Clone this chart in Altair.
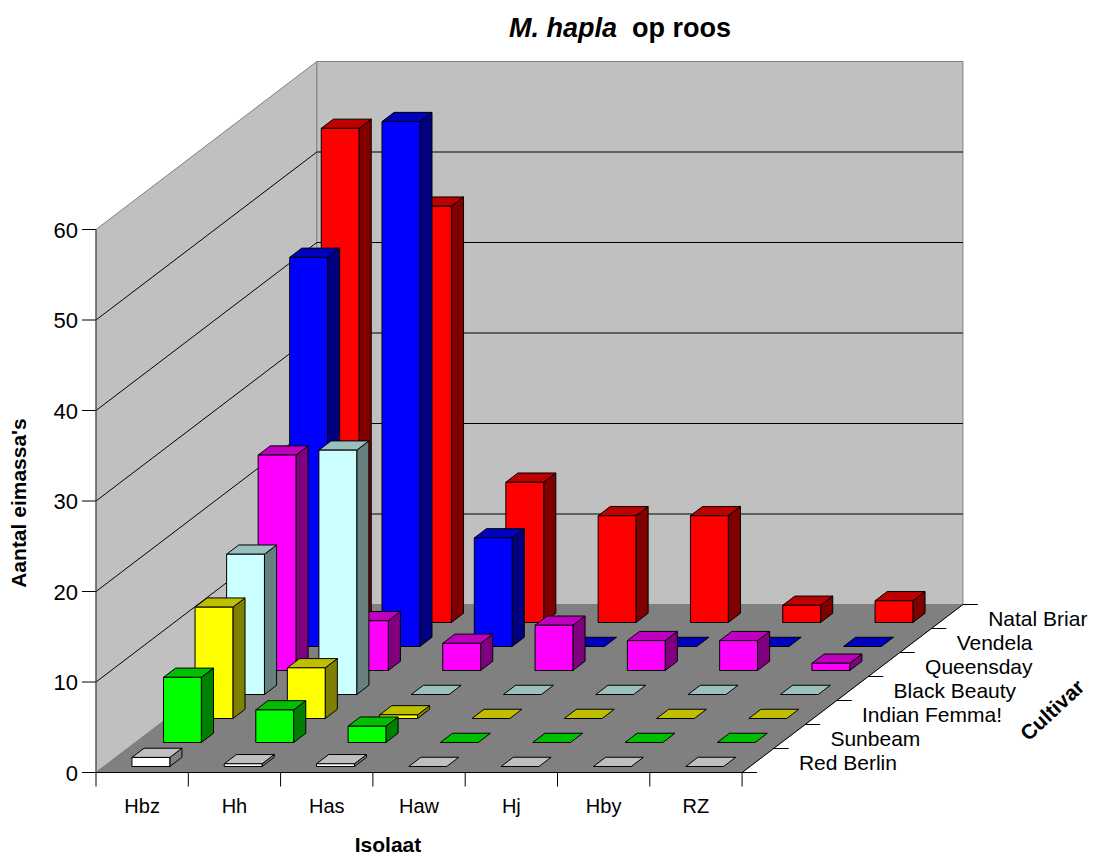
import altair as alt

isolates = ["Hbz", "Hh", "Has", "Haw", "Hj", "Hby", "RZ"]
cultivars = ["Red Berlin", "Sunbeam", "Indian Femma!", "Black Beauty", "Queensday", "Vendela", "Natal Briar"]
red_berlin = [1.0, 0.3, 0.3, 0, 0, 0, 0]
sunbeam = [7.2, 3.6, 1.8, 0, 0, 0, 0]
indian_femma = [12.3, 5.6, 0.4, 0, 0, 0, 0]
black_beauty = [15.5, 27.0, 0, 0, 0, 0, 0]
queensday = [23.8, 5.5, 3.0, 5.0, 3.3, 3.3, 0.8]
vendela = [43.0, 58.0, 12.0, 0, 0, 0, 0]
natal_briar = [54.6, 46.0, 15.5, 11.8, 11.8, 1.9, 2.4]
series = [red_berlin, sunbeam, indian_femma, black_beauty, queensday, vendela, natal_briar]
front_colors = ["#ffffff", "#00ff00", "#ffff00", "#ccffff", "#ff00ff", "#0000ff", "#ff0000"]
top_colors = ["#bfbfbf", "#00bf00", "#bfbf00", "#99bfbf", "#bf00bf", "#0000bf", "#bf0000"]
side_colors = ["#808080", "#008000", "#808000", "#668080", "#800080", "#000080", "#800000"]
y_ticks = [0, 10, 20, 30, 40, 50, 60]

# oblique projection of the 3D chart box onto the page
X0, Y0 = 88.0, 764.5        # front-left floor corner, inside the page margin
CELL = 92.3                 # width of an isolate
DX, DY = 31.55, 24.0        # shift of a cultivar row
UNIT = 9.05                 # pixels per egg mass
GAP = 0.304                 # part of a cell left of the bar, front face
BAR_W, DEPTH = 0.41, 0.385  # bar size, in cells and rows
ROW_START = 0.25            # part of a row in front of the bar


def pt(c, r, v=0.0):
    return [X0 + CELL * c + DX * r, Y0 - DY * r - UNIT * v]


def poly(points, fill, stroke):
    ring = points + [points[0]]
    return {"type": "Feature", "properties": {"fill": fill, "stroke": stroke},
            "geometry": {"type": "Polygon", "coordinates": [ring]}}


def line(points, stroke):
    return {"type": "Feature", "properties": {"stroke": stroke},
            "geometry": {"type": "LineString", "coordinates": points}}


n_c, n_r, top = len(isolates), len(cultivars), max(y_ticks)
walls = [
    poly([pt(0, 0), pt(0, n_r), pt(0, n_r, top), pt(0, 0, top)], "#c0c0c0", "#808080"),
    poly([pt(0, n_r), pt(n_c, n_r), pt(n_c, n_r, top), pt(0, n_r, top)], "#c0c0c0", "#808080"),
    poly([pt(0, 0), pt(n_c, 0), pt(n_c, n_r), pt(0, n_r)], "#808080", "#808080"),
]
rules = []
for t in y_ticks[1:-1]:
    rules.append(line([pt(0, 0, t), pt(0, n_r, t), pt(n_c, n_r, t)], "#000000"))
for t in y_ticks:
    a = pt(0, 0, t)
    rules.append(line([[a[0] - 14, a[1]], a], "#000000"))
for c in range(n_c + 1):
    a = pt(c, 0)
    rules.append(line([a, [a[0], a[1] + 14]], "#000000"))
for r in range(n_r + 1):
    a = pt(n_c, r)
    rules.append(line([a, [a[0] + 15, a[1]]], "#000000"))
rules.append(line([pt(0, 0), pt(n_c, 0), pt(n_c, n_r)], "#000000"))
rules.append(line([pt(0, 0, top), pt(0, 0)], "#404040"))

bars = []
for r in range(n_r - 1, -1, -1):
    for c in range(n_c):
        v = series[r][c]
        rr = r + ROW_START
        c0, c1, r1 = c + GAP, c + GAP + BAR_W, rr + DEPTH
        if v > 0:
            bars.append(poly([pt(c1, rr), pt(c1, r1), pt(c1, r1, v), pt(c1, rr, v)], side_colors[r], "#000000"))
        bars.append(poly([pt(c0, rr, v), pt(c1, rr, v), pt(c1, r1, v), pt(c0, r1, v)], top_colors[r], "#000000"))
        if v > 0:
            bars.append(poly([pt(c0, rr), pt(c1, rr), pt(c1, rr, v), pt(c0, rr, v)], front_colors[r], "#000000"))

proj = dict(type="identity", scale=1, translate=[0, 0])
FONT = "Liberation Sans"


def shapes(features, width=1.0):
    return (alt.Chart(alt.Data(values=features)).mark_geoshape(strokeWidth=width)
            .encode(fill=alt.Fill("properties.fill:N", scale=None),
                    stroke=alt.Stroke("properties.stroke:N", scale=None))
            .project(**proj))


def strokes(features, width=1.0):
    return (alt.Chart(alt.Data(values=features)).mark_geoshape(filled=False, strokeWidth=width)
            .encode(stroke=alt.Stroke("properties.stroke:N", scale=None))
            .project(**proj))


def texts(rows, **mark):
    return (alt.Chart(alt.Data(values=rows))
            .mark_text(font=FONT, color="#000000", **mark)
            .encode(longitude="x:Q", latitude="y:Q", text="t:N")
            .project(**proj))


ytick_rows = [{"x": pt(0, 0, t)[0] - 18, "y": pt(0, 0, t)[1] + 1, "t": str(t)} for t in y_ticks]
xtick_rows = [{"x": pt(c + 0.5, 0)[0], "y": Y0 + 34, "t": s} for c, s in enumerate(isolates)]
row_rows = [{"x": pt(n_c, r + 0.5)[0] + 41, "y": pt(n_c, r + 0.5)[1] + 3, "t": s} for r, s in enumerate(cultivars)]

chart = alt.layer(
    shapes(walls),
    strokes(rules),
    shapes(bars),
    texts(ytick_rows, fontSize=22, align="right", baseline="middle"),
    texts(xtick_rows, fontSize=20, align="center", baseline="middle"),
    texts(row_rows, fontSize=21, align="left", baseline="middle"),
    texts([{"x": 501, "y": 29, "t": "M. hapla"}], fontSize=27, fontWeight="bold", fontStyle="italic",
          align="left", baseline="alphabetic"),
    texts([{"x": 624, "y": 29, "t": "op roos"}], fontSize=27, fontWeight="bold", align="left", baseline="alphabetic"),
    texts([{"x": 12, "y": 495, "t": "Aantal eimassa's"}], fontSize=21, fontWeight="bold", angle=270,
          align="center", baseline="middle"),
    texts([{"x": 380, "y": 838, "t": "Isolaat"}], fontSize=21, fontWeight="bold", align="center", baseline="middle"),
    texts([{"x": 1045, "y": 703, "t": "Cultivar"}], fontSize=21, fontWeight="bold", angle=317,
          align="center", baseline="middle"),
).properties(width=1080, height=848, padding=0, autosize=alt.AutoSizeParams(type="none")
).configure_view(stroke=None)

chart.save("out.html", embed_options={"renderer": "svg", "actions": False})
